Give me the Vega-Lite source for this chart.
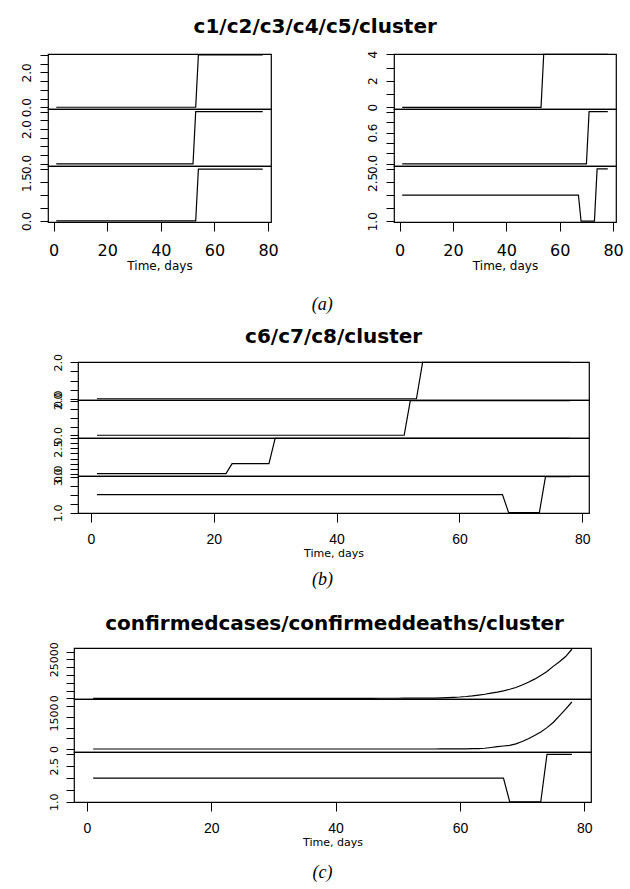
{
 "$schema": "https://vega.github.io/schema/vega-lite/v6.json",
 "padding": {"left": 0, "top": 16, "right": 0, "bottom": 0},
 "background": "white",
 "data": {"values": [
{"d":1,"c1":0,"c2":0,"c3":0,"c4":0,"c5":0,"c6":0,"c7":0,"c8":0,"cl":2,"cases":0,"deaths":0},
{"d":2,"c1":0,"c2":0,"c3":0,"c4":0,"c5":0,"c6":0,"c7":0,"c8":0,"cl":2,"cases":0,"deaths":0},
{"d":3,"c1":0,"c2":0,"c3":0,"c4":0,"c5":0,"c6":0,"c7":0,"c8":0,"cl":2,"cases":0,"deaths":0},
{"d":4,"c1":0,"c2":0,"c3":0,"c4":0,"c5":0,"c6":0,"c7":0,"c8":0,"cl":2,"cases":0,"deaths":0},
{"d":5,"c1":0,"c2":0,"c3":0,"c4":0,"c5":0,"c6":0,"c7":0,"c8":0,"cl":2,"cases":0,"deaths":0},
{"d":6,"c1":0,"c2":0,"c3":0,"c4":0,"c5":0,"c6":0,"c7":0,"c8":0,"cl":2,"cases":0,"deaths":0},
{"d":7,"c1":0,"c2":0,"c3":0,"c4":0,"c5":0,"c6":0,"c7":0,"c8":0,"cl":2,"cases":0,"deaths":0},
{"d":8,"c1":0,"c2":0,"c3":0,"c4":0,"c5":0,"c6":0,"c7":0,"c8":0,"cl":2,"cases":0,"deaths":0},
{"d":9,"c1":0,"c2":0,"c3":0,"c4":0,"c5":0,"c6":0,"c7":0,"c8":0,"cl":2,"cases":0,"deaths":0},
{"d":10,"c1":0,"c2":0,"c3":0,"c4":0,"c5":0,"c6":0,"c7":0,"c8":0,"cl":2,"cases":0,"deaths":0},
{"d":11,"c1":0,"c2":0,"c3":0,"c4":0,"c5":0,"c6":0,"c7":0,"c8":0,"cl":2,"cases":0,"deaths":0},
{"d":12,"c1":0,"c2":0,"c3":0,"c4":0,"c5":0,"c6":0,"c7":0,"c8":0,"cl":2,"cases":0,"deaths":0},
{"d":13,"c1":0,"c2":0,"c3":0,"c4":0,"c5":0,"c6":0,"c7":0,"c8":0,"cl":2,"cases":0,"deaths":0},
{"d":14,"c1":0,"c2":0,"c3":0,"c4":0,"c5":0,"c6":0,"c7":0,"c8":0,"cl":2,"cases":0,"deaths":0},
{"d":15,"c1":0,"c2":0,"c3":0,"c4":0,"c5":0,"c6":0,"c7":0,"c8":0,"cl":2,"cases":0,"deaths":0},
{"d":16,"c1":0,"c2":0,"c3":0,"c4":0,"c5":0,"c6":0,"c7":0,"c8":0,"cl":2,"cases":0,"deaths":0},
{"d":17,"c1":0,"c2":0,"c3":0,"c4":0,"c5":0,"c6":0,"c7":0,"c8":0,"cl":2,"cases":0,"deaths":0},
{"d":18,"c1":0,"c2":0,"c3":0,"c4":0,"c5":0,"c6":0,"c7":0,"c8":0,"cl":2,"cases":0,"deaths":0},
{"d":19,"c1":0,"c2":0,"c3":0,"c4":0,"c5":0,"c6":0,"c7":0,"c8":0,"cl":2,"cases":0,"deaths":0},
{"d":20,"c1":0,"c2":0,"c3":0,"c4":0,"c5":0,"c6":0,"c7":0,"c8":0,"cl":2,"cases":0,"deaths":0},
{"d":21,"c1":0,"c2":0,"c3":0,"c4":0,"c5":0,"c6":0,"c7":0,"c8":0,"cl":2,"cases":0,"deaths":0},
{"d":22,"c1":0,"c2":0,"c3":0,"c4":0,"c5":0,"c6":0,"c7":0,"c8":0,"cl":2,"cases":0,"deaths":0},
{"d":23,"c1":0,"c2":0,"c3":0,"c4":0,"c5":0,"c6":0,"c7":0,"c8":1,"cl":2,"cases":0,"deaths":0},
{"d":24,"c1":0,"c2":0,"c3":0,"c4":0,"c5":0,"c6":0,"c7":0,"c8":1,"cl":2,"cases":0,"deaths":0},
{"d":25,"c1":0,"c2":0,"c3":0,"c4":0,"c5":0,"c6":0,"c7":0,"c8":1,"cl":2,"cases":0,"deaths":0},
{"d":26,"c1":0,"c2":0,"c3":0,"c4":0,"c5":0,"c6":0,"c7":0,"c8":1,"cl":2,"cases":0,"deaths":0},
{"d":27,"c1":0,"c2":0,"c3":0,"c4":0,"c5":0,"c6":0,"c7":0,"c8":1,"cl":2,"cases":0,"deaths":0},
{"d":28,"c1":0,"c2":0,"c3":0,"c4":0,"c5":0,"c6":0,"c7":0,"c8":1,"cl":2,"cases":0,"deaths":0},
{"d":29,"c1":0,"c2":0,"c3":0,"c4":0,"c5":0,"c6":0,"c7":0,"c8":1,"cl":2,"cases":0,"deaths":0},
{"d":30,"c1":0,"c2":0,"c3":0,"c4":0,"c5":0,"c6":0,"c7":0,"c8":3.5,"cl":2,"cases":0,"deaths":0},
{"d":31,"c1":0,"c2":0,"c3":0,"c4":0,"c5":0,"c6":0,"c7":0,"c8":3.5,"cl":2,"cases":0,"deaths":0},
{"d":32,"c1":0,"c2":0,"c3":0,"c4":0,"c5":0,"c6":0,"c7":0,"c8":3.5,"cl":2,"cases":0,"deaths":0},
{"d":33,"c1":0,"c2":0,"c3":0,"c4":0,"c5":0,"c6":0,"c7":0,"c8":3.5,"cl":2,"cases":0,"deaths":0},
{"d":34,"c1":0,"c2":0,"c3":0,"c4":0,"c5":0,"c6":0,"c7":0,"c8":3.5,"cl":2,"cases":0,"deaths":0},
{"d":35,"c1":0,"c2":0,"c3":0,"c4":0,"c5":0,"c6":0,"c7":0,"c8":3.5,"cl":2,"cases":0,"deaths":0},
{"d":36,"c1":0,"c2":0,"c3":0,"c4":0,"c5":0,"c6":0,"c7":0,"c8":3.5,"cl":2,"cases":0,"deaths":0},
{"d":37,"c1":0,"c2":0,"c3":0,"c4":0,"c5":0,"c6":0,"c7":0,"c8":3.5,"cl":2,"cases":0,"deaths":0},
{"d":38,"c1":0,"c2":0,"c3":0,"c4":0,"c5":0,"c6":0,"c7":0,"c8":3.5,"cl":2,"cases":0,"deaths":0},
{"d":39,"c1":0,"c2":0,"c3":0,"c4":0,"c5":0,"c6":0,"c7":0,"c8":3.5,"cl":2,"cases":0,"deaths":0},
{"d":40,"c1":0,"c2":0,"c3":0,"c4":0,"c5":0,"c6":0,"c7":0,"c8":3.5,"cl":2,"cases":0,"deaths":0},
{"d":41,"c1":0,"c2":0,"c3":0,"c4":0,"c5":0,"c6":0,"c7":0,"c8":3.5,"cl":2,"cases":1,"deaths":0},
{"d":42,"c1":0,"c2":0,"c3":0,"c4":0,"c5":0,"c6":0,"c7":0,"c8":3.5,"cl":2,"cases":2,"deaths":0},
{"d":43,"c1":0,"c2":0,"c3":0,"c4":0,"c5":0,"c6":0,"c7":0,"c8":3.5,"cl":2,"cases":3,"deaths":0},
{"d":44,"c1":0,"c2":0,"c3":0,"c4":0,"c5":0,"c6":0,"c7":0,"c8":3.5,"cl":2,"cases":5,"deaths":0},
{"d":45,"c1":0,"c2":0,"c3":0,"c4":0,"c5":0,"c6":0,"c7":0,"c8":3.5,"cl":2,"cases":8,"deaths":0},
{"d":46,"c1":0,"c2":0,"c3":0,"c4":0,"c5":0,"c6":0,"c7":0,"c8":3.5,"cl":2,"cases":12,"deaths":0},
{"d":47,"c1":0,"c2":0,"c3":0,"c4":0,"c5":0,"c6":0,"c7":0,"c8":3.5,"cl":2,"cases":18,"deaths":0},
{"d":48,"c1":0,"c2":0,"c3":0,"c4":0,"c5":0,"c6":0,"c7":0,"c8":3.5,"cl":2,"cases":25,"deaths":0},
{"d":49,"c1":0,"c2":0,"c3":0,"c4":0,"c5":0,"c6":0,"c7":0,"c8":3.5,"cl":2,"cases":35,"deaths":0},
{"d":50,"c1":0,"c2":0,"c3":0,"c4":0,"c5":0,"c6":0,"c7":0,"c8":3.5,"cl":2,"cases":45,"deaths":0},
{"d":51,"c1":0,"c2":0,"c3":0,"c4":0,"c5":0,"c6":0,"c7":0,"c8":3.5,"cl":2,"cases":60,"deaths":0},
{"d":52,"c1":0,"c2":0,"c3":0,"c4":0,"c5":0,"c6":0,"c7":2,"c8":3.5,"cl":2,"cases":75,"deaths":0},
{"d":53,"c1":0,"c2":3,"c3":0,"c4":0,"c5":0,"c6":0,"c7":2,"c8":3.5,"cl":2,"cases":90,"deaths":0},
{"d":54,"c1":3,"c2":3,"c3":2,"c4":4,"c5":0,"c6":2,"c7":2,"c8":3.5,"cl":2,"cases":110,"deaths":0},
{"d":55,"c1":3,"c2":3,"c3":2,"c4":4,"c5":0,"c6":2,"c7":2,"c8":3.5,"cl":2,"cases":130,"deaths":0},
{"d":56,"c1":3,"c2":3,"c3":2,"c4":4,"c5":0,"c6":2,"c7":2,"c8":3.5,"cl":2,"cases":150,"deaths":1},
{"d":57,"c1":3,"c2":3,"c3":2,"c4":4,"c5":0,"c6":2,"c7":2,"c8":3.5,"cl":2,"cases":300,"deaths":2},
{"d":58,"c1":3,"c2":3,"c3":2,"c4":4,"c5":0,"c6":2,"c7":2,"c8":3.5,"cl":2,"cases":450,"deaths":3},
{"d":59,"c1":3,"c2":3,"c3":2,"c4":4,"c5":0,"c6":2,"c7":2,"c8":3.5,"cl":2,"cases":620,"deaths":5},
{"d":60,"c1":3,"c2":3,"c3":2,"c4":4,"c5":0,"c6":2,"c7":2,"c8":3.5,"cl":2,"cases":840,"deaths":7},
{"d":61,"c1":3,"c2":3,"c3":2,"c4":4,"c5":0,"c6":2,"c7":2,"c8":3.5,"cl":2,"cases":1150,"deaths":10},
{"d":62,"c1":3,"c2":3,"c3":2,"c4":4,"c5":0,"c6":2,"c7":2,"c8":3.5,"cl":2,"cases":1550,"deaths":14},
{"d":63,"c1":3,"c2":3,"c3":2,"c4":4,"c5":0,"c6":2,"c7":2,"c8":3.5,"cl":2,"cases":2050,"deaths":20},
{"d":64,"c1":3,"c2":3,"c3":2,"c4":4,"c5":0,"c6":2,"c7":2,"c8":3.5,"cl":2,"cases":2600,"deaths":35},
{"d":65,"c1":3,"c2":3,"c3":2,"c4":4,"c5":0,"c6":2,"c7":2,"c8":3.5,"cl":2,"cases":3300,"deaths":70},
{"d":66,"c1":3,"c2":3,"c3":2,"c4":4,"c5":0,"c6":2,"c7":2,"c8":3.5,"cl":2,"cases":4000,"deaths":110},
{"d":67,"c1":3,"c2":3,"c3":2,"c4":4,"c5":0,"c6":2,"c7":2,"c8":3.5,"cl":2,"cases":4800,"deaths":140},
{"d":68,"c1":3,"c2":3,"c3":2,"c4":4,"c5":0,"c6":2,"c7":2,"c8":3.5,"cl":1,"cases":5800,"deaths":170},
{"d":69,"c1":3,"c2":3,"c3":2,"c4":4,"c5":0,"c6":2,"c7":2,"c8":3.5,"cl":1,"cases":6900,"deaths":240},
{"d":70,"c1":3,"c2":3,"c3":2,"c4":4,"c5":0,"c6":2,"c7":2,"c8":3.5,"cl":1,"cases":8500,"deaths":350},
{"d":71,"c1":3,"c2":3,"c3":2,"c4":4,"c5":1,"c6":2,"c7":2,"c8":3.5,"cl":1,"cases":10300,"deaths":480},
{"d":72,"c1":3,"c2":3,"c3":2,"c4":4,"c5":1,"c6":2,"c7":2,"c8":3.5,"cl":1,"cases":12300,"deaths":630},
{"d":73,"c1":3,"c2":3,"c3":2,"c4":4,"c5":1,"c6":2,"c7":2,"c8":3.5,"cl":1,"cases":14700,"deaths":800},
{"d":74,"c1":3,"c2":3,"c3":2,"c4":4,"c5":1,"c6":2,"c7":2,"c8":3.5,"cl":3,"cases":17200,"deaths":1000},
{"d":75,"c1":3,"c2":3,"c3":2,"c4":4,"c5":1,"c6":2,"c7":2,"c8":3.5,"cl":3,"cases":20500,"deaths":1240},
{"d":76,"c1":3,"c2":3,"c3":2,"c4":4,"c5":1,"c6":2,"c7":2,"c8":3.5,"cl":3,"cases":23500,"deaths":1550},
{"d":77,"c1":3,"c2":3,"c3":2,"c4":4,"c5":1,"c6":2,"c7":2,"c8":3.5,"cl":3,"cases":26800,"deaths":1870},
{"d":78,"c1":3,"c2":3,"c3":2,"c4":4,"c5":1,"c6":2,"c7":2,"c8":3.5,"cl":3,"cases":31500,"deaths":2200}
 ]},
 "config": {
  "view": {"stroke": "black", "strokeWidth": 1.2},
  "font": "DejaVu Sans",
  "title": {"font": "DejaVu Sans", "fontSize": 20, "fontWeight": "bold", "color": "black", "anchor": "middle"},
  "axis": {"domain": false, "grid": false, "tickColor": "black", "tickWidth": 1, "tickSize": 9, "labelColor": "black", "labelFont": "DejaVu Sans", "labelOverlap": false, "labelBound": false, "labelFlush": false, "titleColor": "black", "titleFont": "DejaVu Sans", "titleFontWeight": "normal", "title": null},
  "axisY": {"labelAngle": 270, "labelAlign": "center", "labelBaseline": "bottom", "labelPadding": 7, "labelFontSize": 11, "tickSize": 8},
  "axisX": {"titleFontSize": 11, "titlePadding": 1, "labelFontSize": 14, "labelFont": "Liberation Sans"},
  "line": {"color": "black", "strokeWidth": 1.2}
 },
 "columns": 1,
 "align": "none",
 "spacing": 25,
 "concat": [
  {"columns": 1, "align": "none", "spacing": 13, "concat": [
   {"title": {"text": "(a)", "orient": "bottom", "font": "Liberation Serif", "fontStyle": "italic", "fontWeight": "normal", "fontSize": 18, "offset": 24, "dx": 10},
    "vconcat": [
     {"title": {"text": "c1/c2/c3/c4/c5/cluster", "offset": 13, "dx": 3},
      "spacing": 0,
      "hconcat": [
       {"width": 1, "height": 10, "view": {"stroke": null}, "mark": {"type": "rule", "opacity": 0}, "encoding": {}},
       {"spacing": 69, "hconcat": [
       {"spacing": 0, "bounds": "flush", "vconcat": [
        {"width": 223, "height": 55, "mark": "line", "encoding": {
          "x": {"field": "d", "type": "quantitative", "scale": {"domain": [-2.08, 81.08], "nice": false, "zero": false}, "axis": null},
          "y": {"field": "c1", "type": "quantitative", "scale": {"domain": [-0.1, 3.05], "nice": false, "zero": false}, "axis": {"values": [0, 0.5, 1, 1.5, 2, 2.5, 3], "labelFontSize": 12, "labelExpr": "indexof([0,2], datum.value) >= 0 ? format(datum.value, '.1f') : ''", "minExtent": 45, "maxExtent": 45}}}},
        {"width": 223, "height": 57, "mark": "line", "encoding": {
          "x": {"field": "d", "type": "quantitative", "scale": {"domain": [-2.08, 81.08], "nice": false, "zero": false}, "axis": null},
          "y": {"field": "c2", "type": "quantitative", "scale": {"domain": [-0.12, 3.15], "nice": false, "zero": false}, "axis": {"values": [0, 0.5, 1, 1.5, 2, 2.5, 3], "labelFontSize": 12, "labelExpr": "indexof([0,2], datum.value) >= 0 ? format(datum.value, '.1f') : ''", "minExtent": 45, "maxExtent": 45}}}},
        {"width": 223, "height": 56, "mark": "line", "encoding": {
          "x": {"field": "d", "type": "quantitative", "scale": {"domain": [-2.08, 81.08], "nice": false, "zero": false}, "axis": {"values": [0, 20, 40, 60, 80], "title": "Time, days", "labelFont": "DejaVu Sans", "labelFontSize": 16, "labelPadding": 11, "titleFontSize": 12, "titlePadding": 2}},
          "y": {"field": "c3", "type": "quantitative", "scale": {"domain": [-0.04, 2.12], "nice": false, "zero": false}, "axis": {"values": [0, 0.5, 1, 1.5, 2], "labelFontSize": 12, "labelExpr": "indexof([0,1.5], datum.value) >= 0 ? format(datum.value, '.1f') : ''", "minExtent": 45, "maxExtent": 45}}}}
       ]},
       {"spacing": 0, "bounds": "flush", "vconcat": [
        {"width": 222, "height": 55, "mark": "line", "encoding": {
          "x": {"field": "d", "type": "quantitative", "scale": {"domain": [-2.08, 81.08], "nice": false, "zero": false}, "axis": null},
          "y": {"field": "c4", "type": "quantitative", "scale": {"domain": [-0.13, 4.02], "nice": false, "zero": false}, "axis": {"values": [0, 1, 2, 3, 4], "labelFontSize": 12, "labelExpr": "indexof([0,2,4], datum.value) >= 0 ? format(datum.value, 'd') : ''", "minExtent": 45, "maxExtent": 45}}}},
        {"width": 222, "height": 57, "mark": "line", "encoding": {
          "x": {"field": "d", "type": "quantitative", "scale": {"domain": [-2.08, 81.08], "nice": false, "zero": false}, "axis": null},
          "y": {"field": "c5", "type": "quantitative", "scale": {"domain": [-0.04, 1.05], "nice": false, "zero": false}, "axis": {"values": [0, 0.2, 0.4, 0.6, 0.8, 1], "labelFontSize": 12, "labelExpr": "indexof([0,0.6], datum.value) >= 0 ? format(datum.value, '.1f') : ''", "minExtent": 45, "maxExtent": 45}}}},
        {"width": 222, "height": 56, "mark": "line", "encoding": {
          "x": {"field": "d", "type": "quantitative", "scale": {"domain": [-2.08, 81.08], "nice": false, "zero": false}, "axis": {"values": [0, 20, 40, 60, 80], "title": "Time, days", "labelFont": "DejaVu Sans", "labelFontSize": 16, "labelPadding": 11, "titleFontSize": 12, "titlePadding": 2}},
          "y": {"field": "cl", "type": "quantitative", "scale": {"domain": [0.97, 3.11], "nice": false, "zero": false}, "axis": {"values": [1, 1.5, 2, 2.5, 3], "labelFontSize": 12, "labelExpr": "indexof([1,2.5], datum.value) >= 0 ? format(datum.value, '.1f') : ''", "minExtent": 45, "maxExtent": 45}}}}
       ]}
       ]}
      ]}
    ]},
   {"title": {"text": "(b)", "orient": "bottom", "font": "Liberation Serif", "fontStyle": "italic", "fontWeight": "normal", "fontSize": 18, "offset": 12, "dx": 27},
    "vconcat": [
     {"title": {"text": "c6/c7/c8/cluster", "offset": 6, "dx": 38},
      "spacing": 0,
      "hconcat": [
       {"width": 1, "height": 10, "view": {"stroke": null}, "mark": {"type": "rule", "opacity": 0}, "encoding": {}},
       {"spacing": 0, "bounds": "flush",
      "vconcat": [
        {"width": 511, "height": 38, "mark": "line", "encoding": {
          "x": {"field": "d", "type": "quantitative", "scale": {"domain": [-2.08, 81.08], "nice": false, "zero": false}, "axis": null},
          "y": {"field": "c6", "type": "quantitative", "scale": {"domain": [-0.07, 2.02], "nice": false, "zero": false}, "axis": {"values": [0, 0.5, 1, 1.5, 2], "labelExpr": "indexof([0,2], datum.value) >= 0 ? format(datum.value, '.1f') : ''", "minExtent": 75, "maxExtent": 75}}}},
        {"width": 511, "height": 38, "mark": "line", "encoding": {
          "x": {"field": "d", "type": "quantitative", "scale": {"domain": [-2.08, 81.08], "nice": false, "zero": false}, "axis": null},
          "y": {"field": "c7", "type": "quantitative", "scale": {"domain": [-0.16, 2.04], "nice": false, "zero": false}, "axis": {"values": [0, 0.5, 1, 1.5, 2], "labelExpr": "indexof([0,2], datum.value) >= 0 ? format(datum.value, '.1f') : ''", "minExtent": 75, "maxExtent": 75}}}},
        {"width": 511, "height": 38, "mark": "line", "encoding": {
          "x": {"field": "d", "type": "quantitative", "scale": {"domain": [-2.08, 81.08], "nice": false, "zero": false}, "axis": null},
          "y": {"field": "c8", "type": "quantitative", "scale": {"domain": [-0.23, 3.53], "nice": false, "zero": false}, "axis": {"values": [0, 0.5, 1, 1.5, 2, 2.5, 3, 3.5], "labelExpr": "indexof([0,2.5], datum.value) >= 0 ? format(datum.value, '.1f') : ''", "minExtent": 75, "maxExtent": 75}}}},
        {"width": 511, "height": 37, "mark": "line", "encoding": {
          "x": {"field": "d", "type": "quantitative", "scale": {"domain": [-2.08, 81.08], "nice": false, "zero": false}, "axis": {"values": [0, 20, 40, 60, 80], "title": "Time, days", "labelPadding": 10}},
          "y": {"field": "cl", "type": "quantitative", "scale": {"domain": [0.98, 3.04], "nice": false, "zero": false}, "axis": {"values": [1, 1.5, 2, 2.5, 3], "labelExpr": "indexof([1,3], datum.value) >= 0 ? format(datum.value, '.1f') : ''", "minExtent": 75, "maxExtent": 75}}}}
      ]}
      ]}
    ]}
  ]},
  {"title": {"text": "(c)", "orient": "bottom", "font": "Liberation Serif", "fontStyle": "italic", "fontWeight": "normal", "fontSize": 18, "offset": 16, "dx": 26},
   "vconcat": [
    {"title": {"text": "confirmedcases/confirmeddeaths/cluster", "offset": 7, "dx": 38},
     "spacing": 0,
     "hconcat": [
      {"width": 1, "height": 10, "view": {"stroke": null}, "mark": {"type": "rule", "opacity": 0}, "encoding": {}},
      {"spacing": 0, "bounds": "flush",
     "vconcat": [
        {"width": 517, "height": 51, "mark": "line", "encoding": {
          "x": {"field": "d", "type": "quantitative", "scale": {"domain": [-2.08, 81.08], "nice": false, "zero": false}, "axis": null},
          "y": {"field": "cases", "type": "quantitative", "scale": {"domain": [-450, 32300], "nice": false, "zero": false}, "axis": {"values": [0, 5000, 10000, 15000, 20000, 25000, 30000], "labelExpr": "indexof([0,25000], datum.value) >= 0 ? format(datum.value, 'd') : ''", "minExtent": 71, "maxExtent": 71}}}},
        {"width": 517, "height": 53, "mark": "line", "encoding": {
          "x": {"field": "d", "type": "quantitative", "scale": {"domain": [-2.08, 81.08], "nice": false, "zero": false}, "axis": null},
          "y": {"field": "deaths", "type": "quantitative", "scale": {"domain": [-140, 2340], "nice": false, "zero": false}, "axis": {"values": [0, 500, 1000, 1500, 2000], "labelExpr": "indexof([0,1500], datum.value) >= 0 ? format(datum.value, 'd') : ''", "minExtent": 71, "maxExtent": 71}}}},
        {"width": 517, "height": 50, "mark": "line", "encoding": {
          "x": {"field": "d", "type": "quantitative", "scale": {"domain": [-2.08, 81.08], "nice": false, "zero": false}, "axis": {"values": [0, 20, 40, 60, 80], "title": "Time, days", "labelPadding": 10}},
          "y": {"field": "cl", "type": "quantitative", "scale": {"domain": [0.99, 3.1], "nice": false, "zero": false}, "axis": {"values": [1, 1.5, 2, 2.5, 3], "labelExpr": "indexof([1,2.5], datum.value) >= 0 ? format(datum.value, '.1f') : ''", "minExtent": 71, "maxExtent": 71}}}}
     ]}
     ]}
   ]}
 ]
}
